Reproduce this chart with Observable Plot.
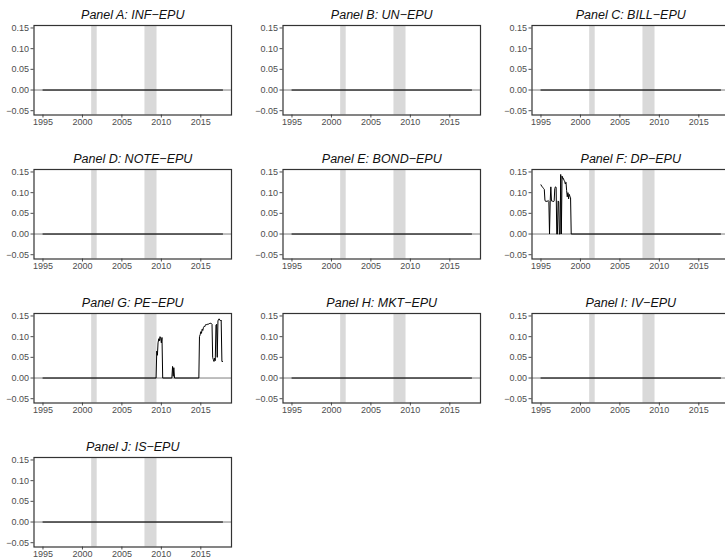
<!DOCTYPE html>
<html>
<head>
<meta charset="utf-8">
<script src="https://cdn.jsdelivr.net/npm/d3@7"></script>
<script src="https://cdn.jsdelivr.net/npm/@observablehq/plot@0.6"></script>
<style>
  html, body { margin: 0; padding: 0; background: #ffffff; }
  #chart { position: relative; width: 725px; height: 559px; overflow: hidden; background: #ffffff; }
  #chart > div { position: absolute; width: 236px; height: 137px; }
  #chart svg { overflow: visible; max-width: none !important; }
</style>
</head>
<body>
<div id="chart"></div>
<script>
// ---------- data ----------
const panelTitles = [
  "Panel A: INF−EPU", "Panel B: UN−EPU", "Panel C: BILL−EPU",
  "Panel D: NOTE−EPU", "Panel E: BOND−EPU", "Panel F: DP−EPU",
  "Panel G: PE−EPU", "Panel H: MKT−EPU", "Panel I: IV−EPU",
  "Panel J: IS−EPU"
];
const xTicks = [1995, 2000, 2005, 2010, 2015];
const yTicks = [-0.05, 0, 0.05, 0.10, 0.15];
const recessionStart = [2001.17, 2007.92];
const recessionEnd = [2001.87, 2009.45];

// series with no signal (zero throughout the sample)
const flatYears = [1995.00, 2017.75];
const flatValues = [0, 0];

// Panel F: DP-EPU
const dpYears = [1995.00, 1995.08, 1995.17, 1995.25, 1995.33, 1995.42, 1995.50, 1995.58, 1995.67, 1995.75,
  1995.83, 1995.92, 1996.00, 1996.08, 1996.17, 1996.25, 1996.33, 1996.42, 1996.50, 1996.58,
  1996.67, 1996.75, 1996.83, 1996.92, 1997.00, 1997.08, 1997.17, 1997.25, 1997.33, 1997.42,
  1997.50, 1997.58, 1997.67, 1997.75, 1997.83, 1997.92, 1998.00, 1998.08, 1998.17, 1998.25,
  1998.33, 1998.42, 1998.50, 1998.58, 1998.67, 1998.75, 1998.83, 2017.75];
const dpValues = [0.119, 0.116, 0.114, 0.112, 0.110, 0.108, 0.082, 0.079, 0.080, 0.078,
  0.080, 0.081, 0.079, 0.000, 0.080, 0.114, 0.080, 0.079, 0.080, 0.078,
  0.080, 0.110, 0.114, 0.113, 0.000, 0.000, 0.080, 0.078, 0.000, 0.000,
  0.144, 0.000, 0.140, 0.134, 0.135, 0.130, 0.128, 0.121, 0.125, 0.105,
  0.090, 0.100, 0.085, 0.096, 0.091, 0.088, 0.000, 0.000];

// Panel G: PE-EPU
const peYears = [1995.00, 2009.33, 2009.42, 2009.50, 2009.58, 2009.67, 2009.75, 2009.83, 2009.92, 2010.00,
  2010.08, 2010.17, 2011.33, 2011.42, 2011.50, 2011.58, 2011.67, 2014.75, 2014.83, 2014.92,
  2015.00, 2015.08, 2015.17, 2015.25, 2015.33, 2015.42, 2015.50, 2015.58, 2015.67, 2015.75,
  2015.83, 2015.92, 2016.00, 2016.08, 2016.17, 2016.25, 2016.33, 2016.42, 2016.50, 2016.58,
  2016.67, 2016.75, 2016.83, 2016.92, 2017.00, 2017.08, 2017.17, 2017.25, 2017.33, 2017.42,
  2017.50, 2017.58, 2017.67, 2017.75];
const peValues = [0, 0, 0.065, 0.055, 0.085, 0.095, 0.090, 0.100, 0.095, 0.085,
  0.098, 0.000, 0.000, 0.028, 0.004, 0.025, 0.000, 0.000, 0.100, 0.105,
  0.112, 0.108, 0.118, 0.115, 0.122, 0.125, 0.124, 0.128, 0.130, 0.128,
  0.130, 0.131, 0.130, 0.132, 0.131, 0.133, 0.132, 0.130, 0.050, 0.045,
  0.040, 0.048, 0.042, 0.128, 0.130, 0.050, 0.138, 0.142, 0.143, 0.140,
  0.138, 0.140, 0.040, 0.040];

const seriesYears = [flatYears, flatYears, flatYears, flatYears, flatYears, dpYears, peYears, flatYears, flatYears, flatYears];
const seriesValues = [flatValues, flatValues, flatValues, flatValues, flatValues, dpValues, peValues, flatValues, flatValues, flatValues];

// ---------- drawing ----------
const recessions = recessionStart.map((s, i) => ({start: s, end: recessionEnd[i]}));
const chart = document.getElementById("chart");
const fmtY = d3.format(".2f");

panelTitles.forEach((title, i) => {
  const col = i % 3, row = Math.floor(i / 3);
  const data = seriesYears[i].map((yr, j) => ({year: yr, value: seriesValues[i][j]}));
  const svg = Plot.plot({
    width: 236,
    height: 137,
    marginLeft: 33.5,
    marginRight: 5,
    marginTop: 25,
    marginBottom: 22.5,
    style: {
      fontFamily: "'Liberation Sans', Arial, Helvetica, sans-serif",
      fontSize: "9px",
      color: "#4d4d4d",
      background: "transparent",
      overflow: "visible",
      maxWidth: "none"
    },
    x: {domain: [1993.8625, 2018.8875], ticks: xTicks, tickFormat: d => String(d), tickSize: 3, tickPadding: 1, label: null},
    y: {domain: [-0.0604, 0.156], ticks: yTicks, tickFormat: fmtY, tickSize: 3, tickPadding: 2, label: null},
    marks: [
      Plot.rect(recessions, {x1: "start", x2: "end", fill: "#d9d9d9"}),
      Plot.ruleY([0], {stroke: "#7f7f7f", strokeWidth: 1}),
      Plot.line(data, {x: "year", y: "value", stroke: "#000000", strokeWidth: 1}),
      Plot.frame({stroke: "#333333", strokeWidth: 1.2}),
      Plot.text([title], {frameAnchor: "top", lineAnchor: "bottom", dy: -6.5, fontSize: 12.5, fontStyle: "italic", fill: "#111111"})
    ]
  });
  const wrap = document.createElement("div");
  wrap.style.left = (249 * col) + "px";
  wrap.style.top = (144 * row) + "px";
  wrap.appendChild(svg);
  chart.appendChild(wrap);
});
</script>
</body>
</html>
